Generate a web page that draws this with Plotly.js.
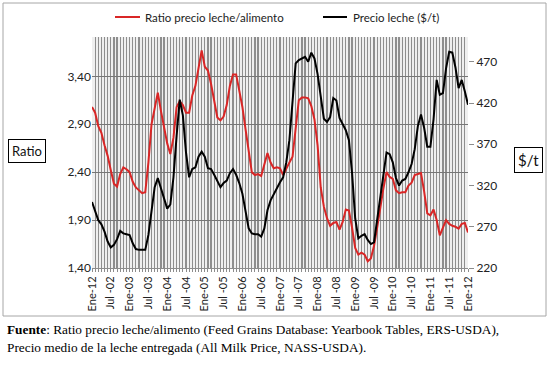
<!DOCTYPE html>
<html>
<head>
<meta charset="utf-8">
<script src="https://cdn.plot.ly/plotly-3.0.1.min.js"></script>
<style>
html,body{margin:0;padding:0;background:#fff;}
#chart{width:550px;height:369px;}
</style>
</head>
<body>
<div id="chart"></div>
<script>
// Monthly data, Jan 2002 .. Jan 2012 (121 months)
var ratioLecheAlimento = [
 3.08,3.02,2.88,2.81,2.68,2.57,2.42,2.28,2.25,2.38,2.45,2.43,
 2.40,2.30,2.24,2.21,2.18,2.19,2.50,2.90,3.06,3.23,3.04,2.85,
 2.70,2.59,2.76,3.08,3.14,3.10,3.02,3.02,3.20,3.30,3.48,3.67,
 3.50,3.46,3.32,3.15,2.97,2.94,2.98,3.10,3.30,3.42,3.42,3.25,
 3.08,2.85,2.62,2.40,2.37,2.38,2.36,2.47,2.60,2.50,2.44,2.45,
 2.44,2.37,2.44,2.50,2.56,2.85,3.15,3.18,3.18,3.17,3.09,2.95,
 2.68,2.24,2.04,1.92,1.84,1.87,1.88,1.80,1.88,2.01,2.00,1.82,
 1.61,1.54,1.56,1.54,1.47,1.50,1.63,1.82,2.05,2.23,2.40,2.35,
 2.33,2.21,2.18,2.19,2.19,2.26,2.29,2.37,2.38,2.39,2.20,1.97,
 1.95,2.01,1.90,1.74,1.82,1.90,1.86,1.84,1.83,1.81,1.86,1.87,
 1.77
];
var precioLeche = [
 300,288,278,273,264,252,245,248,255,265,262,261,
 260,250,243,242,242,242,260,290,318,329,316,302,
 292,297,330,380,424,405,360,330,340,342,355,361,
 355,341,340,333,325,318,323,326,335,340,333,323,
 310,287,268,262,261,261,258,268,290,302,310,316,
 324,330,348,375,425,468,472,474,476,470,481,474,
 455,428,401,397,403,426,423,402,395,387,375,335,
 280,256,259,261,254,249,251,278,305,333,360,358,
 348,329,320,326,328,336,346,364,392,406,390,367,
 367,400,448,430,432,462,482,481,463,438,448,434,
 418
];
var xTickLabels = ["Ene-12","Jul -02","Ene-03","Jul -03","Ene-04","Jul -04","Ene-05","Jul -05",
 "Ene-06","Jul -06","Ene-07","Jul -07","Ene-08","Jul -08","Ene-09","Jul -09","Ene-10","Jul -10",
 "Ene-11","Jul -11","Ene-12"];
var leftTickVals = [1.40,1.90,2.40,2.90,3.40];
var leftTickText = ["1,40","1,90","2,40","2,90","3,40"];
var rightTickVals = [220,270,320,370,420,470];

var monthIdx = ratioLecheAlimento.map(function(_,i){return i;});
var xTickVals = xTickLabels.map(function(_,i){return i*6;});

var traces = [
 {x: monthIdx, y: ratioLecheAlimento, type:'scatter', mode:'lines', name:'Ratio precio leche/alimento',
  line:{color:'#d92626', width:2}, yaxis:'y', showlegend:false, hoverinfo:'skip'},
 {x: monthIdx, y: precioLeche, type:'scatter', mode:'lines', name:'Precio leche ($/t)',
  line:{color:'#000000', width:2}, yaxis:'y2', showlegend:false, hoverinfo:'skip'}
];

var L=92, R=468, T=37, B=268, W=R-L, H=B-T;
function px(x){return (x-L)/W;}
function py(y){return (B-y)/H;}

var fontMain = 'Lato, "Open Sans", sans-serif';
var gridV = '#8e8e8e';

var layout = {
 width:550, height:369,
 margin:{l:L, r:550-R, t:T, b:369-B, pad:0},
 paper_bgcolor:'#ffffff', plot_bgcolor:'#efefef',
 showlegend:false,
 xaxis:{
  range:[0,120], tickmode:'array', tickvals:xTickVals, ticktext:xTickLabels,
  tickangle:-90, tickfont:{family:fontMain, size:11, color:'#222'},
  showgrid:true, gridcolor:gridV, gridwidth:1.2,
  minor:{tickmode:'linear', tick0:0, dtick:1, showgrid:true, gridcolor:gridV, gridwidth:1.2,
         ticks:'outside', ticklen:3, tickcolor:'#8c8c8c', tickwidth:1},
  ticks:'outside', ticklen:3, tickcolor:'#8c8c8c',
  zeroline:false, showline:true, linecolor:'#8c8c8c', linewidth:1, fixedrange:true
 },
 yaxis:{
  range:[1.40,3.81], tickmode:'array', tickvals:leftTickVals, ticktext:leftTickText,
  tickfont:{family:fontMain, size:12, color:'#222'},
  showgrid:true, gridcolor:'#767676', gridwidth:1, zeroline:false,
  showline:false, ticks:'', ticklen:0, fixedrange:true
 },
 yaxis2:{
  overlaying:'y', side:'right', range:[220,500], tickmode:'array', tickvals:rightTickVals,
  tickfont:{family:fontMain, size:12, color:'#222'},
  showgrid:false, zeroline:false, showline:false, ticks:'outside', ticklen:5, tickcolor:'#8c8c8c',
  fixedrange:true
 },
 shapes:[
  {type:'rect', xref:'paper', yref:'paper', x0:px(3), x1:px(546), y0:py(3), y1:py(316),
   line:{color:'#a6a6a6', width:1}, fillcolor:'rgba(0,0,0,0)', layer:'below'},
  {type:'line', xref:'paper', yref:'paper', x0:px(115), x1:px(140), y0:py(17), y1:py(17),
   line:{color:'#d92626', width:2}},
  {type:'line', xref:'paper', yref:'paper', x0:px(323), x1:px(347), y0:py(17), y1:py(17),
   line:{color:'#000000', width:2}}
 ],
 annotations:[
  {xref:'paper', yref:'paper', x:px(143), y:py(17), xanchor:'left', yanchor:'middle', showarrow:false,
   text:'Ratio precio leche/alimento', font:{family:fontMain, size:11.5, color:'#222'}},
  {xref:'paper', yref:'paper', x:px(351), y:py(17), xanchor:'left', yanchor:'middle', showarrow:false,
   text:'Precio leche ($/t)', font:{family:fontMain, size:11.5, color:'#222'}},
  {xref:'paper', yref:'paper', x:px(26.5), y:py(151), xanchor:'center', yanchor:'middle', showarrow:false,
   text:'Ratio', font:{family:fontMain, size:13, color:'#111'}, bordercolor:'#000', borderwidth:1, borderpad:3, bgcolor:'#fff'},
  {xref:'paper', yref:'paper', x:px(528), y:py(160), xanchor:'center', yanchor:'middle', showarrow:false,
   text:'$/t', font:{family:fontMain, size:15, color:'#111'}, bordercolor:'#000', borderwidth:1, borderpad:3, bgcolor:'#fff'},
  {xref:'paper', yref:'paper', x:px(5), y:py(329), xanchor:'left', yanchor:'middle', showarrow:false,
   text:'<b>Fuente</b>: Ratio precio leche/alimento (Feed Grains Database: Yearbook Tables, ERS-USDA),',
   font:{family:'"Liberation Serif", "Times New Roman", serif', size:13.3, color:'#000'}},
  {xref:'paper', yref:'paper', x:px(5), y:py(347), xanchor:'left', yanchor:'middle', showarrow:false,
   text:'Precio medio de la leche entregada (All Milk Price, NASS-USDA).',
   font:{family:'"Liberation Serif", "Times New Roman", serif', size:13.3, color:'#000'}}
 ]
};

Plotly.newPlot('chart', traces, layout, {displayModeBar:false, staticPlot:true});
</script>
</body>
</html>
